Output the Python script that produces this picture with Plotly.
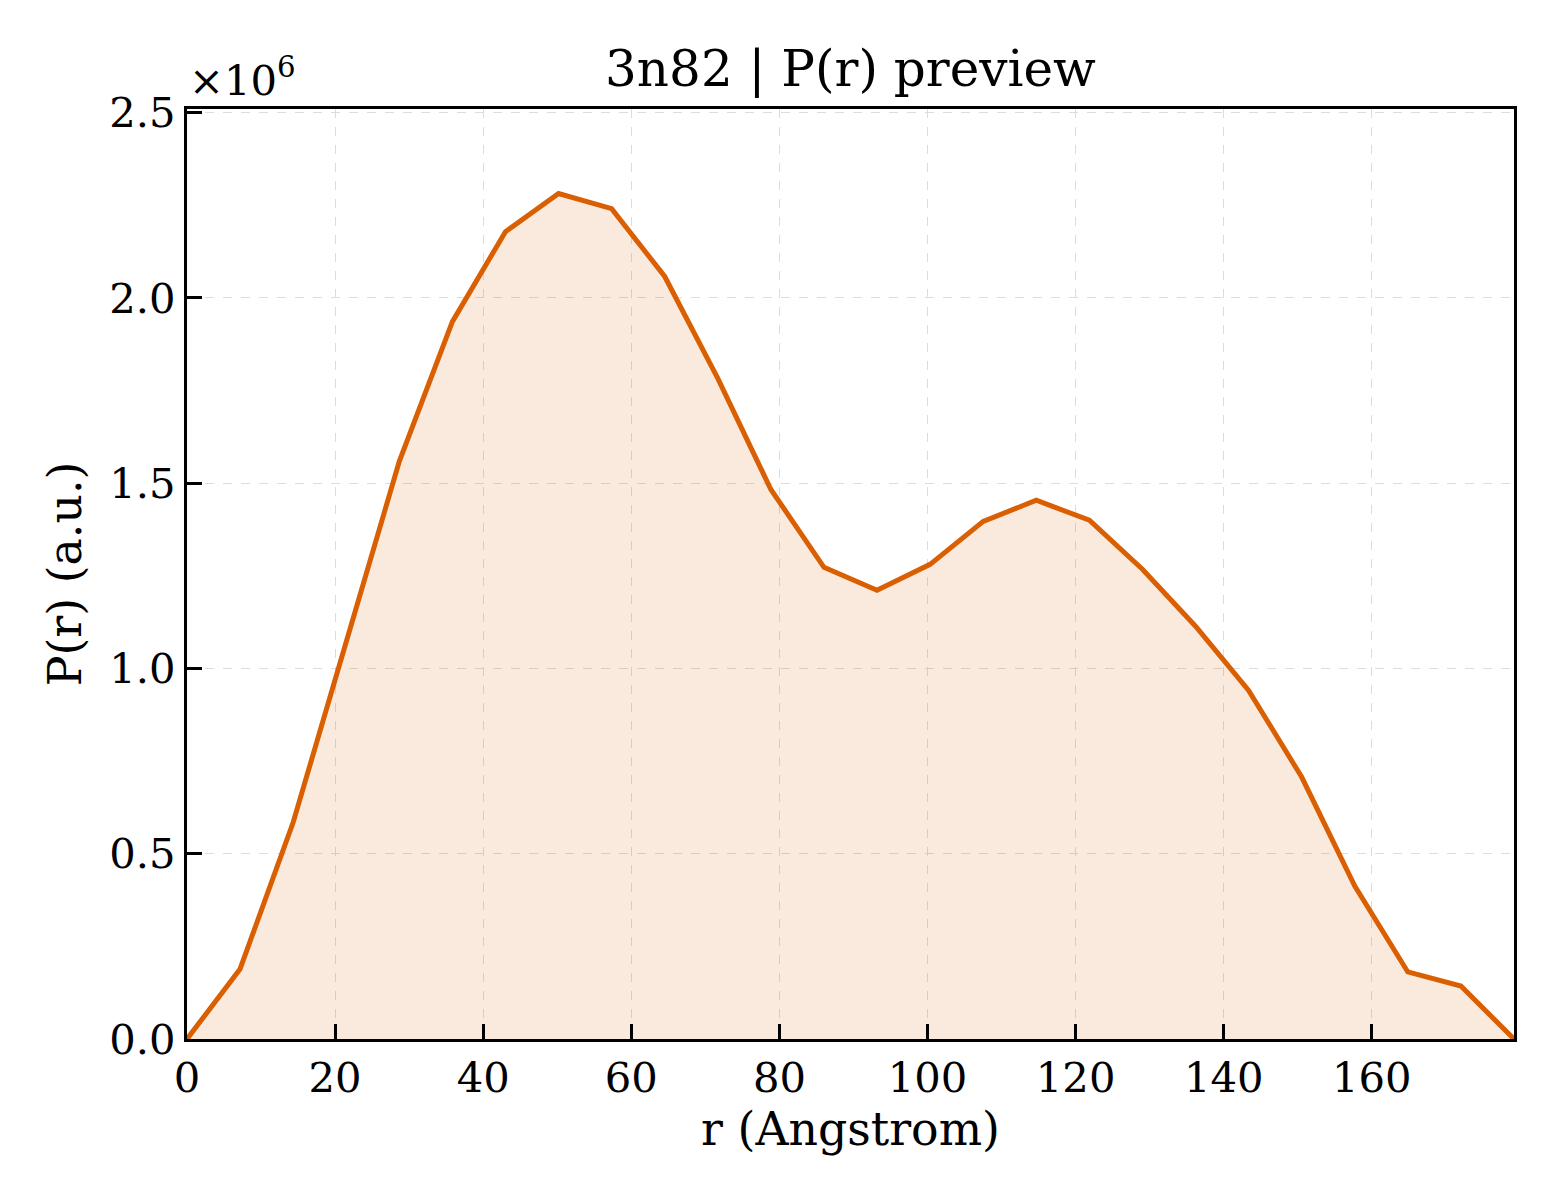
import plotly.graph_objects as go

r_angstrom = [0.0, 7.17, 14.34, 21.5, 28.67, 35.84, 43.01, 50.18, 57.34, 64.51,
              71.68, 78.85, 86.02, 93.18, 100.35, 107.52, 114.69, 121.86, 129.02,
              136.19, 143.36, 150.53, 157.7, 164.86, 172.03, 179.2]
pr_millions = [0.0, 0.189, 0.585, 1.076, 1.559, 1.936, 2.179, 2.282, 2.241, 2.058,
               1.783, 1.483, 1.273, 1.211, 1.281, 1.397, 1.454, 1.400, 1.268,
               1.114, 0.941, 0.707, 0.413, 0.181, 0.143, 0.0]
x_ticks = [0, 20, 40, 60, 80, 100, 120, 140, 160]
y_ticks = [0.0, 0.5, 1.0, 1.5, 2.0, 2.5]

LINE = "#D95F02"
FONT = "DejaVu Serif"
TICK_SIZE = 41.7
LABEL_SIZE = 45.8
TITLE_SIZE = 50

fig = go.Figure()
fig.add_trace(go.Scatter(
    x=r_angstrom, y=pr_millions, mode="lines",
    line=dict(color=LINE, width=5),
    fill="tozeroy", fillcolor="rgba(217,95,2,0.13)",
    showlegend=False,
))

axis_common = dict(
    showline=True, linecolor="black", linewidth=3.3, mirror=True,
    ticks="inside", ticklen=14.6, tickwidth=3.3, tickcolor="black",
    showgrid=True, gridcolor="#dcdcdc", gridwidth=1.2, griddash="dash",
    zeroline=False, automargin=False,
    tickfont=dict(family=FONT, size=TICK_SIZE, color="black"),
)

fig.update_xaxes(
    range=[0, 179.2], tickvals=x_ticks, ticktext=[str(v) for v in x_ticks],
    title=dict(text="r (Angstrom)", font=dict(family=FONT, size=LABEL_SIZE, color="black"), standoff=12),
    **axis_common,
)
fig.update_yaxes(
    range=[0, 2.51], tickvals=y_ticks, ticktext=[f"{v:.1f}" for v in y_ticks],
    title=dict(text="P(r) (a.u.)", font=dict(family=FONT, size=LABEL_SIZE, color="black"), standoff=14),
    **axis_common,
)

fig.add_annotation(
    text="×10<sup>6</sup>", xref="paper", yref="paper", x=0.0, y=1.0,
    xanchor="left", yanchor="bottom", yshift=2, showarrow=False,
    font=dict(family=FONT, size=TICK_SIZE, color="black"),
)

fig.update_layout(
    width=1560, height=1200,
    margin=dict(l=179, r=54, t=101, b=169),
    paper_bgcolor="white", plot_bgcolor="white",
    title=dict(text="3n82 | P(r) preview", x=(179 + 1506) / 2 / 1560, xanchor="center",
               y=1 - 60 / 1200, yanchor="middle",
               font=dict(family=FONT, size=TITLE_SIZE, color="black")),
    font=dict(family=FONT, color="black"),
)

fig.write_html("out.html")
